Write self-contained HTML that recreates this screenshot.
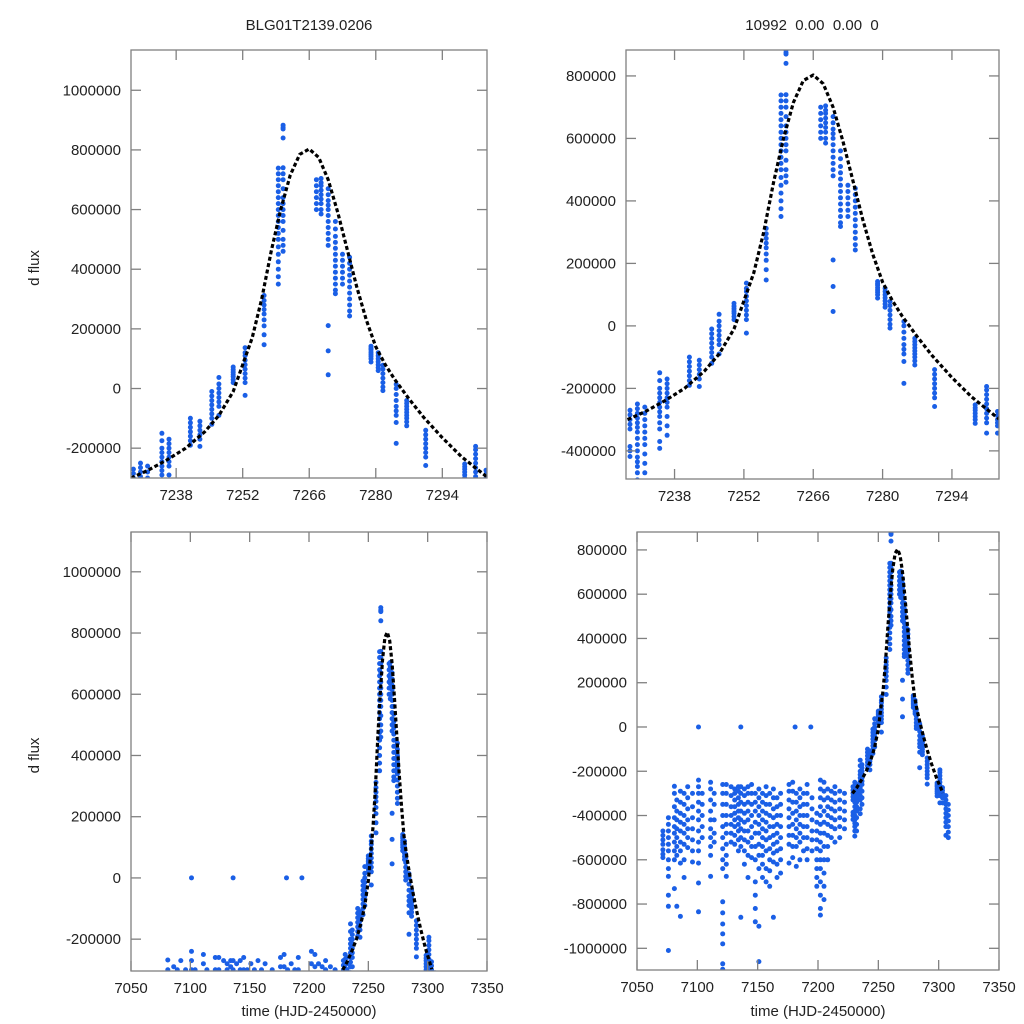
<!DOCTYPE html>
<html><head><meta charset="utf-8"><style>
html,body{margin:0;padding:0;background:#fff;width:1024px;height:1024px;overflow:hidden;}
svg{display:block;font-family:"Liberation Sans",sans-serif;}
</style></head><body>
<svg id="chart" width="1024" height="1024" viewBox="0 0 1024 1024">
<defs>
<clipPath id="c0"><rect x="131" y="50" width="356" height="428"/></clipPath>
<clipPath id="c1"><rect x="626" y="50" width="373" height="429"/></clipPath>
<clipPath id="c2"><rect x="131" y="532" width="356" height="439"/></clipPath>
<clipPath id="c3"><rect x="637" y="532" width="362" height="438"/></clipPath>
</defs>
</svg>
<script>
// observation times (HJD-2450000)
const obsT = [7071.5,7076,7081,7083,7086,7089,7092,7096,7101,7104,7111,7114,7121,7124,7128,7131,7134,7136,7139,7142,7145,7148,7151,7154,7157,7160,7163,7166,7169,7176,7179,7181,7182,7185,7188,7191,7194,7195,7199,7202,7205,7208,7211,7214,7218,7222,
7229,7230.5,7232,7235,7236.5,7241,7243,7245.5,7247,7250,7252.5,7256.5,7259.5,7260.5,7267.5,7268.5,7270,7271.5,7273,7274.5,7279,7280.5,7281.5,7284.3,7286.5,7290.5,7298.7,7301,7303.2,7306,7308];
// flux values in thousands for each observation time
const fluxK = [
[-470,-490,-510,-530,-555,-575,-590],
[-410,-440,-470,-500,-530,-560,-600,-640,-675,-760,-810,-1010],
[-268,-300,-360,-410,-450,-480,-520,-560,-600,-730],
[-330,-380,-420,-460,-500,-540,-580,-810],
[-290,-340,-390,-430,-470,-520,-560,-615,-856],
[-300,-350,-400,-440,-480,-530,-600,-680],
[-270,-320,-370,-420,-460,-500,-545],
[-300,-360,-410,-460,-510,-560,-610],
[0,-240,-270,-300,-340,-380,-420,-470,-520,-560,-615,-705,-835],
[-300,-350,-400,-450,-500],
[-250,-280,-330,-380,-420,-460,-500,-540,-580,-675],
[-300,-350,-420,-480,-520],
[-260,-300,-350,-400,-450,-500,-550,-600,-640,-790,-840,-890,-935,-980,-1070,-1095],
[-260,-300,-350,-400,-440,-480,-530,-580,-620,-675],
[-270,-310,-360,-400,-440,-480,-520],
[-280,-300,-330,-360,-390,-420,-450,-490,-530],
[-270,-290,-320,-350,-380,-410,-440,-470,-510,-560],
[0,-270,-300,-340,-380,-420,-460,-500,-540,-860],
[-280,-310,-350,-390,-430,-470,-510,-560,-620],
[-270,-300,-340,-380,-420,-470,-520,-580,-680],
[-260,-300,-350,-400,-450,-500,-540,-590],
[-300,-340,-380,-430,-480,-540,-600,-700,-760,-820,-880],
[-280,-320,-360,-400,-440,-480,-530,-580,-640,-900,-1060],
[-300,-340,-380,-420,-460,-500,-540,-580,-620,-680],
[-270,-310,-350,-390,-430,-470,-510,-560,-640,-700],
[-300,-350,-400,-450,-500,-550,-600,-650,-720],
[-280,-320,-370,-410,-450,-490,-530,-570,-610,-860],
[-320,-360,-400,-440,-480,-520,-560,-620,-680],
[-300,-350,-400,-450,-500,-550,-600,-660],
[-260,-290,-330,-370,-410,-450,-490,-530,-615],
[-250,-290,-340,-390,-440,-490,-540,-590],
[0],
[-300,-340,-380,-420,-460,-500,-540,-630],
[-280,-320,-360,-400,-440,-480,-520,-600],
[-300,-350,-400,-450,-500,-560],
[-260,-300,-350,-400,-450,-500,-550,-600],
[0],
[-320,-370,-420,-470,-510,-560],
[-390,-430,-470,-510,-550,-600,-640,-680,-720],
[-240,-280,-320,-360,-400,-440,-480,-520,-560,-600,-640,-700,-760,-820,-850],
[-250,-290,-330,-380,-430,-480,-540,-600,-660,-720,-780],
[-280,-320,-360,-400,-440,-490,-540,-600],
[-290,-330,-370,-410,-450,-500],
[-270,-300,-340,-380,-420,-460,-520],
[-290,-330,-370,-410,-450,-500],
[-300,-340,-380,-420,-460],
[-270,-285,-300,-315,-330,-386,-400,-418],
[-250,-265,-280,-295,-310,-325,-340,-360,-380,-400,-420,-435,-450,-470,-493],
[-260,-280,-300,-320,-340,-360,-380,-410,-440,-470],
[-150,-175,-200,-215,-230,-245,-260,-275,-290,-310,-330,-370,-392],
[-170,-185,-200,-215,-230,-245,-260,-290,-320,-350],
[-100,-115,-130,-145,-160,-175,-190],
[-110,-125,-140,-155,-170,-194],
[-10,-25,-40,-55,-70,-85,-100,-120],
[37,15,0,-15,-30,-45,-60,-90],
[72,63,55,47,40,30,20],
[137,120,110,95,80,65,50,35,20,-23],
[312,295,280,265,250,230,210,180,147],
[739,720,700,680,660,640,620,600,580,560,540,520,500,475,450,425,400,375,350],
[883,875,870,840,740,720,700,670,640,620,600,580,560,530,500,480,460],
[700,680,660,640,620,600],
[704,690,680,665,650,635,620,600,585],
[670,650,630,615,600,580,560,540,520,500,480,211,126,46],
[560,535,510,490,470,450,430,410,390,370,350,330,318],
[450,430,410,390,370,350],
[440,420,400,380,360,340,320,300,280,260,243],
[142,135,130,122,115,108,100,89],
[120,110,100,90,80,70,60],
[78,65,50,35,20,5,-7],
[14,0,-20,-40,-60,-75,-90,-114,-184],
[-40,-50,-60,-70,-80,-90,-100,-112,-125],
[-140,-155,-170,-185,-200,-215,-230,-258],
[-253,-262,-270,-280,-290,-300,-312],
[-194,-205,-220,-235,-250,-265,-280,-295,-310,-343],
[-274,-287,-300,-310,-320,-343],
[-310,-330,-350,-370,-390,-410,-430,-450,-490],
[-350,-375,-400,-425,-450,-475,-500]
];
// model fit curve
const modelT = [7228.5,7232,7236,7240,7244,7247,7250,7252,7254,7256,7258,7260,7262,7264,7266,7268,7270,7272,7274,7276,7278,7280,7282,7284,7287,7290,7294,7298,7303.5];
const modelF = [-300000,-275000,-240000,-200000,-145000,-90000,-10000,80000,170000,300000,460000,600000,715000,785000,803000,775000,700000,590000,465000,340000,230000,140000,80000,30000,-35000,-95000,-165000,-228000,-298000];
// tick label arrays
const ticksTopX = [7238,7252,7266,7280,7294];
const ticksBotX = [7050,7100,7150,7200,7250,7300,7350];
const ticksLeftY = [-200000,0,200000,400000,600000,800000,1000000];
const ticksTRY = [-400000,-200000,0,200000,400000,600000,800000];
const ticksBRY = [-1000000,-800000,-600000,-400000,-200000,0,200000,400000,600000,800000];

const NS='http://www.w3.org/2000/svg';
const svg=document.getElementById('chart');
function mk(tag,attrs,parent){const e=document.createElementNS(NS,tag);for(const k in attrs)e.setAttribute(k,attrs[k]);(parent||svg).appendChild(e);return e;}

const panels=[
 {id:'top-left',x0:131,x1:487,y0:50,y1:478,tmin:7228.5,tmax:7303.4,fmin:-300000,fmax:1135000,xt:ticksTopX,yt:ticksLeftY,clip:'c0',ylab:true,xlab:false},
 {id:'top-right',x0:626,x1:999,y0:50,y1:479,tmin:7228.2,tmax:7303.5,fmin:-490000,fmax:883000,xt:ticksTopX,yt:ticksTRY,clip:'c1',ylab:false,xlab:false},
 {id:'bottom-left',x0:131,x1:487,y0:532,y1:971,tmin:7050,tmax:7350,fmin:-304000,fmax:1130000,xt:ticksBotX,yt:ticksLeftY,clip:'c2',ylab:true,xlab:true},
 {id:'bottom-right',x0:637,x1:999,y0:532,y1:970,tmin:7050,tmax:7350,fmin:-1098000,fmax:881000,xt:ticksBotX,yt:ticksBRY,clip:'c3',ylab:false,xlab:true}
];

panels.forEach(p=>{
 const sx=t=>p.x0+(t-p.tmin)/(p.tmax-p.tmin)*(p.x1-p.x0);
 const sy=f=>p.y1-(f-p.fmin)/(p.fmax-p.fmin)*(p.y1-p.y0);
 const g=mk('g',{});
 
 
 const pts=mk('g',{'clip-path':'url(#'+p.clip+')',fill:'#1a5fe6'},g);
 
 
 obsT.forEach((t,i)=>{fluxK[i].forEach(v=>{
  const f=v*1000;
  if(t<p.tmin-1||t>p.tmax+1||f<p.fmin-10000||f>p.fmax+10000) return;
  const c=mk('circle',{cx:sx(t).toFixed(1),cy:sy(f).toFixed(1),r:2.5},pts);
  
  
 });});
 const d=modelT.map((t,i)=>(i?'L':'M')+sx(t).toFixed(1)+' '+sy(modelF[i]).toFixed(1)).join(' ');
 const cv=mk('path',{d:d,fill:'none',stroke:'#000','stroke-width':3.2,'stroke-dasharray':'4 2.5','stroke-linejoin':'round','clip-path':'url(#'+p.clip+')'},g);
 
 
 const box=mk('rect',{x:p.x0,y:p.y0,width:p.x1-p.x0,height:p.y1-p.y0,fill:'none',stroke:'#808080','stroke-width':1.3},g);
 
 
 p.xt.forEach(t=>{
  const x=sx(t);
  mk('line',{x1:x,x2:x,y1:p.y1,y2:p.y1-10,stroke:'#808080','stroke-width':1.3},g);
  mk('line',{x1:x,x2:x,y1:p.y0,y2:p.y0+10,stroke:'#808080','stroke-width':1.3},g);
  const tx=mk('text',{x:x,y:p.y1+22,'text-anchor':'middle','font-size':15,fill:'#222'},g);
  tx.textContent=t;
  
  
 });
 p.yt.forEach(v=>{
  const y=sy(v);
  mk('line',{x1:p.x0,x2:p.x0+10,y1:y,y2:y,stroke:'#808080','stroke-width':1.3},g);
  mk('line',{x1:p.x1,x2:p.x1-10,y1:y,y2:y,stroke:'#808080','stroke-width':1.3},g);
  const ty=mk('text',{x:p.x0-10,y:y+5,'text-anchor':'end','font-size':15,fill:'#222'},g);
  ty.textContent=v;
  
  
 });
 if(p.ylab){
  const cy=(p.y0+p.y1)/2+4;
  const yl=mk('text',{x:0,y:0,transform:'translate(39,'+cy+') rotate(-90)','text-anchor':'middle','font-size':15,fill:'#222'},g);
  yl.textContent='d flux';
  
  
 }
 if(p.xlab){
  const xl=mk('text',{x:(p.x0+p.x1)/2,y:1016,'text-anchor':'middle','font-size':15,fill:'#222'},g);
  xl.textContent='time (HJD-2450000)';
  
  
 }
});
const t1=mk('text',{x:309,y:30,'text-anchor':'middle','font-size':15,fill:'#222'});
t1.textContent='BLG01T2139.0206';


const t2=mk('text',{x:812,y:30,'text-anchor':'middle','font-size':15,fill:'#222'});
t2.textContent='10992\u00a0\u00a00.00\u00a0\u00a00.00\u00a0\u00a00';


</script>
</body></html>
